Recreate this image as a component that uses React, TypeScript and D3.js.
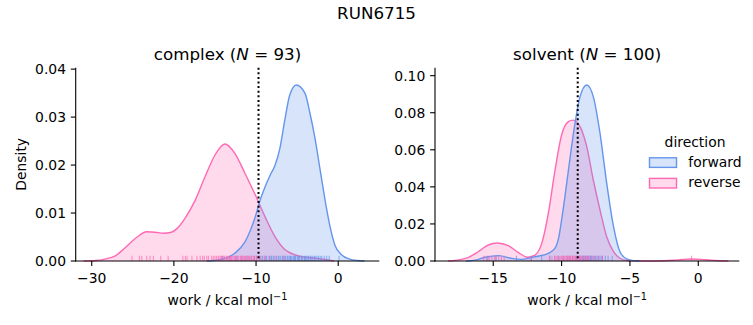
import React from 'react';
import * as d3 from 'd3';

// ---------- data ----------
const FIG_TITLE = 'RUN6715';
const X_LABEL = 'work / kcal mol';
const X_LABEL_SUP = '\u22121';
const Y_LABEL = 'Density';
const LEGEND_TITLE = 'direction';
const DIRECTIONS = ['forward', 'reverse'];

const complexTicksX = [-30, -20, -10, 0];
const complexTicksY = [0, 0.01, 0.02, 0.03, 0.04];
const solventTicksX = [-15, -10, -5, 0];
const solventTicksY = [0, 0.02, 0.04, 0.06, 0.08, 0.1];

const complexN = 93;
const solventN = 100;
const complexEstimate = -9.7;
const solventEstimate = -8.82;

// KDE curves (x in kcal/mol, density)
const complexForwardX = [-16, -14.6, -13.5, -12.6, -11.35, -10.1, -9.5, -8.9, -8.2, -7.7, -7.1, -6.5, -5.9, -5.1, -4.05, -3.44, -2.83, -2.2, -1.6, -1.0, -0.4, 0.4, 1.4, 2.3, 3.2];
const complexForwardD = [0, 0.0002, 0.0007, 0.0016, 0.004, 0.0092, 0.0127, 0.0155, 0.0182, 0.0199, 0.0235, 0.0294, 0.0346, 0.0367, 0.035, 0.0308, 0.0256, 0.019, 0.0127, 0.0072, 0.0033, 0.0013, 0.0004, 0.0001, 0];

const complexReverseX = [-31, -29.5, -28.4, -27.2, -26.0, -24.7, -23.3, -22.3, -21.3, -20.3, -19.6, -18.65, -17.4, -16.2, -15.0, -13.8, -12.6, -11.35, -10.1, -8.9, -7.7, -6.5, -5.3, -4.05, -2.8, -1.6, -0.5];
const complexReverseD = [0, 0.0001, 0.0004, 0.001, 0.00265, 0.0047, 0.0061, 0.006, 0.0058, 0.006, 0.0068, 0.0089, 0.0127, 0.0176, 0.0221, 0.0244, 0.0225, 0.0183, 0.0138, 0.0092, 0.0051, 0.0024, 0.0013, 0.0008, 0.0006, 0.0003, 0];

const solventForwardX = [-17.0, -16.3, -15.6, -14.6, -13.65, -12.9, -11.95, -10.97, -10.48, -10.2, -10.0, -9.75, -9.5, -9.02, -8.65, -8.16, -7.68, -7.19, -6.7, -6.2, -5.73, -5.24, -4.75, -4.3];
const solventForwardD = [0, 0.0005, 0.002, 0.0029, 0.0014, 0.0009, 0.0023, 0.0041, 0.0069, 0.013, 0.022, 0.035, 0.049, 0.0743, 0.0887, 0.095, 0.0887, 0.069, 0.042, 0.0185, 0.005, 0.0011, 0.0002, 0];

const solventReverseX = [-18.3, -17.5, -16.8, -16.1, -15.4, -14.7, -13.9, -13.15, -12.5, -11.95, -11.45, -10.97, -10.48, -10.0, -9.5, -9.15, -8.65, -8.16, -7.68, -7.19, -6.7, -6.2, -5.73, -5.24, -4.5, -3.5, -2.5, -1.8, -1.2, -0.5, 0.2, 0.9, 1.6, 2.2];
const solventReverseD = [0, 0.0006, 0.002, 0.005, 0.0085, 0.0097, 0.0083, 0.0045, 0.002, 0.0032, 0.0095, 0.0257, 0.049, 0.068, 0.0752, 0.076, 0.0725, 0.0617, 0.0437, 0.0275, 0.0131, 0.005, 0.0015, 0.0003, 0.0001, 0, 0.0001, 0.0004, 0.0008, 0.0011, 0.0009, 0.0004, 0.0001, 0];

// rug samples (estimated)
const complexReverseRug = [-25.1, -24.2, -23.9, -23.3, -22.9, -22.5, -21.6, -20.7, -18.9, -18.6, -18.4, -17.8, -17.2, -16.8, -16.5, -16.3, -16.0, -15.8, -15.4, -15.2, -15.0, -14.8, -14.6, -14.5, -14.3, -14.2, -14.0, -13.9, -13.8, -13.6, -13.5, -13.4, -13.2, -13.1, -13.0, -12.9, -12.7, -12.6, -12.5, -12.3, -12.2, -12.1, -11.9, -11.8, -11.7, -11.5, -11.4, -11.3, -11.2, -11.0, -10.9, -10.8, -10.6, -10.5, -10.3, -10.2, -10.0, -9.9, -9.6, -9.3, -8.9, -8.4, -7.6, -6.6];
const complexForwardRug = [-14.1, -13.2, -12.4, -11.7, -11.1, -10.6, -10.2, -9.9, -9.6, -9.5, -9.2, -9.0, -8.8, -8.7, -8.4, -8.2, -8.1, -7.9, -7.8, -7.5, -7.3, -7.2, -7.0, -6.8, -6.7, -6.5, -6.4, -6.2, -6.1, -5.9, -5.8, -5.7, -5.5, -5.4, -5.3, -5.2, -5.0, -4.9, -4.8, -4.7, -4.5, -4.4, -4.3, -4.1, -4.0, -3.9, -3.7, -3.6, -3.4, -3.3, -3.1, -2.9, -2.8, -2.6, -2.4, -2.2, -2.0, -1.7, -1.4, -1.1, 0.1];
const solventReverseRug = [-15.7, -15.5, -15.3, -15.1, -14.9, -14.8, -14.6, -14.4, -14.2, -12.3, -10.9, -10.7, -10.5, -10.4, -10.3, -10.2, -10.1, -10.0, -9.9, -9.85, -9.8, -9.7, -9.6, -9.55, -9.5, -9.4, -9.35, -9.3, -9.2, -9.15, -9.1, -9.0, -8.95, -8.9, -8.8, -8.7, -8.65, -8.6, -8.5, -8.4, -8.3, -8.2, -8.1, -8.0, -7.9, -7.7, -7.5, -7.3, -7.0, -0.5];
const solventForwardRug = [-15.4, -14.8, -13.3, -12.2, -11.45, -10.85, -10.5, -10.2, -9.9, -9.6, -9.4, -9.2, -9.0, -8.9, -8.8, -8.7, -8.6, -8.5, -8.45, -8.4, -8.3, -8.25, -8.2, -8.1, -8.05, -8.0, -7.9, -7.85, -7.8, -7.7, -7.6, -7.5, -7.4, -7.3, -7.2, -7.1, -7.0, -6.8, -6.6, -6.3];

// ---------- styles / layout ----------
const COLORS: Record<string, string> = { forward: '#6495ED', reverse: '#FF69B4' };
const FONT = 'DejaVu Sans, sans-serif';
const TICK_FS = 13.9;
const TITLE_FS = 16.7;
const W = 753;
const H = 325;
const AX_TOP = 67.7;
const AX_BOTTOM = 261;

type Curve = { x: number[]; d: number[] };
type Panel = {
  label: string;
  n: number;
  left: number;
  right: number;
  xDomain: [number, number];
  yMax: number;
  xTicks: number[];
  yTicks: number[];
  curves: Record<string, Curve>;
  rugs: Record<string, number[]>;
  estimate: number;
};

const panels: Panel[] = [
  {
    label: 'complex',
    n: complexN,
    left: 75.7,
    right: 379.3,
    xDomain: [-31.95, 5.0],
    yMax: 0.0403,
    xTicks: complexTicksX,
    yTicks: complexTicksY,
    curves: {
      forward: { x: complexForwardX, d: complexForwardD },
      reverse: { x: complexReverseX, d: complexReverseD },
    },
    rugs: { forward: complexForwardRug, reverse: complexReverseRug },
    estimate: complexEstimate,
  },
  {
    label: 'solvent',
    n: solventN,
    left: 435,
    right: 739.3,
    xDomain: [-19.26, 3.0],
    yMax: 0.1043,
    xTicks: solventTicksX,
    yTicks: solventTicksY,
    curves: {
      forward: { x: solventForwardX, d: solventForwardD },
      reverse: { x: solventReverseX, d: solventReverseD },
    },
    rugs: { forward: solventForwardRug, reverse: solventReverseRug },
    estimate: solventEstimate,
  },
];

const fmtX = (v: number) => (v < 0 ? '\u2212' + Math.abs(v) : String(v));
const fmtY = (v: number) => v.toFixed(2);

function PanelView({ p, showYLabel }: { p: Panel; showYLabel: boolean }) {
  const x = d3.scaleLinear().domain(p.xDomain).range([p.left, p.right]);
  const y = d3.scaleLinear().domain([0, p.yMax]).range([AX_BOTTOM, AX_TOP]);
  const drawOrder = ['reverse', 'forward'];
  const rugOrder = ['forward', 'reverse'];
  const rugH = 0.027 * (AX_BOTTOM - AX_TOP);
  const cx = (p.left + p.right) / 2;

  return (
    <g>
      {drawOrder.map((k) => {
        const c = p.curves[k];
        const pts = c.x.map((v, i) => [v, c.d[i]] as [number, number]);
        const area = d3
          .area<[number, number]>()
          .x((d) => x(d[0]))
          .y0(y(0))
          .y1((d) => y(d[1]))
          .curve(d3.curveMonotoneX);
        const line = d3
          .line<[number, number]>()
          .x((d) => x(d[0]))
          .y((d) => y(d[1]))
          .curve(d3.curveMonotoneX);
        return (
          <g key={k}>
            <path d={area(pts) || ''} fill={COLORS[k]} fillOpacity={0.25} stroke="none" />
            <path d={line(pts) || ''} fill="none" stroke={COLORS[k]} strokeWidth={1.4} />
          </g>
        );
      })}
      {rugOrder.map((k) => (
        <g key={'rug' + k}>
          {p.rugs[k].map((v, i) => (
            <line
              key={i}
              x1={x(v)}
              x2={x(v)}
              y1={AX_BOTTOM}
              y2={AX_BOTTOM - rugH}
              stroke={COLORS[k]}
              strokeOpacity={0.75}
              strokeWidth={1}
            />
          ))}
        </g>
      ))}
      <line
        x1={x(p.estimate)}
        x2={x(p.estimate)}
        y1={AX_TOP}
        y2={AX_BOTTOM}
        stroke="#000"
        strokeWidth={2}
        strokeDasharray="2,2.6"
      />
      {/* spines */}
      <line x1={p.left} x2={p.left} y1={AX_TOP} y2={AX_BOTTOM + 0.5} stroke="#000" strokeWidth={1.1} />
      <line x1={p.left - 0.5} x2={p.right} y1={AX_BOTTOM} y2={AX_BOTTOM} stroke="#000" strokeWidth={1.1} />
      {p.xTicks.map((t) => (
        <g key={'xt' + t}>
          <line x1={x(t)} x2={x(t)} y1={AX_BOTTOM} y2={AX_BOTTOM + 4.9} stroke="#000" strokeWidth={1.1} />
          <text x={x(t)} y={283} textAnchor="middle" fontSize={TICK_FS} fontFamily={FONT} fill="#000">
            {fmtX(t)}
          </text>
        </g>
      ))}
      {p.yTicks.map((t) => (
        <g key={'yt' + t}>
          <line x1={p.left - 4.9} x2={p.left} y1={y(t)} y2={y(t)} stroke="#000" strokeWidth={1.1} />
          <text x={p.left - 9.7} y={y(t) + 5} textAnchor="end" fontSize={TICK_FS} fontFamily={FONT} fill="#000">
            {fmtY(t)}
          </text>
        </g>
      ))}
      <text x={cx} y={305} textAnchor="middle" fontSize={TICK_FS} fontFamily={FONT} fill="#000">
        {X_LABEL}
        <tspan dy={-5.5} fontSize={9.7}>
          {X_LABEL_SUP}
        </tspan>
      </text>
      {showYLabel && (
        <text
          transform={`translate(25.5, ${(AX_TOP + AX_BOTTOM) / 2}) rotate(-90)`}
          textAnchor="middle"
          fontSize={TICK_FS}
          fontFamily={FONT}
          fill="#000"
        >
          {Y_LABEL}
        </text>
      )}
      <text x={cx} y={59.5} textAnchor="middle" fontSize={TITLE_FS} fontFamily={FONT} fill="#000">
        {p.label + ' ('}
        <tspan fontStyle="italic">N</tspan>
        {' = ' + p.n + ')'}
      </text>
    </g>
  );
}

export default function App() {
  return (
    <svg
      width={W}
      height={H}
      viewBox={`0 0 ${W} ${H}`}
      style={{ position: 'absolute', left: 0, top: 0, background: '#fff' }}
    >
      <rect x={0} y={0} width={W} height={H} fill="#fff" />
      <text x={376.5} y={18.5} textAnchor="middle" fontSize={TITLE_FS} fontFamily={FONT} fill="#000">
        {FIG_TITLE}
      </text>
      {panels.map((p, i) => (
        <PanelView key={p.label} p={p} showYLabel={i === 0} />
      ))}
      <g>
        <text x={695} y={146.7} textAnchor="middle" fontSize={TICK_FS} fontFamily={FONT} fill="#000">
          {LEGEND_TITLE}
        </text>
        {DIRECTIONS.map((k, i) => (
          <g key={k}>
            <rect
              x={649.5}
              y={157.8 + i * 20.6}
              width={27}
              height={9.6}
              fill={COLORS[k]}
              fillOpacity={0.25}
              stroke={COLORS[k]}
              strokeWidth={1.4}
            />
            <text x={688.3} y={166.7 + i * 20.6} fontSize={TICK_FS} fontFamily={FONT} fill="#000">
              {k}
            </text>
          </g>
        ))}
      </g>
    </svg>
  );
}
